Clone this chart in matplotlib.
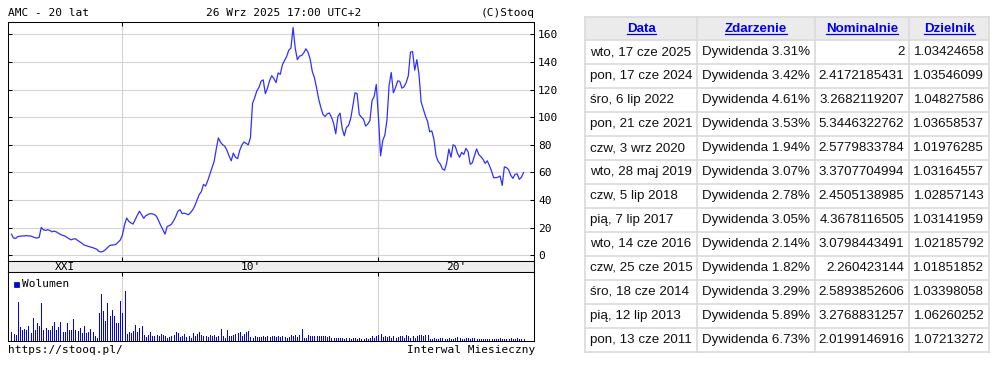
import matplotlib
matplotlib.use('Agg')
import matplotlib.pyplot as plt
import numpy as np
import pandas as pd
from matplotlib.patches import Rectangle

W, H = 1006, 375

# ---------------- data ----------------
start_month = '2005-09-01'
price = [15.3, 12.5, 12.2, 13.6, 13.8, 14.0, 14.0, 14.3, 14.0, 14.0,
         13.4, 12.8, 12.5, 13.0, 20.2, 18.5, 18.0, 18.5, 18.0, 17.0,
         17.5, 17.0, 16.0, 15.1, 14.5, 14.0, 13.0, 12.0, 11.2, 11.8,
         12.0, 10.8, 9.8, 8.8, 7.5, 7.0, 6.5, 6.0, 5.6, 5.0,
         4.4, 2.8, 2.4, 2.9, 4.0, 5.5, 7.0, 7.5, 7.5, 8.0,
         9.5, 11.0, 14.5, 22.0, 27.0, 24.6, 23.5, 22.6, 25.8, 29.0,
         31.9, 29.5, 26.8, 28.7, 29.5, 30.2, 30.0, 29.5, 28.2, 25.0,
         21.5, 18.5, 15.3, 20.9, 21.5, 22.5, 25.0, 28.0, 31.9, 33.0,
         30.2, 30.5, 30.0, 29.4, 31.0, 33.0, 36.0, 40.0, 44.0, 46.0,
         51.3, 50.1, 54.0, 58.6, 63.0, 68.0, 77.0, 85.0, 81.8, 80.0,
         79.0, 76.0, 72.0, 68.4, 74.0, 71.0, 70.0, 76.0, 79.8, 82.0,
         81.0, 80.0, 85.0, 110.0, 114.0, 119.0, 121.5, 126.0, 127.0, 117.0,
         121.0, 126.5, 130.0, 128.0, 125.0, 132.0, 131.0, 138.0, 141.0, 144.0,
         148.5, 150.0, 164.9, 150.0, 141.6, 144.2, 144.6, 146.5, 149.5, 147.0,
         142.0, 133.0, 128.6, 121.3, 113.0, 107.0, 102.0, 100.5, 102.4, 103.0,
         100.0, 95.5, 88.0, 100.4, 102.9, 91.9, 86.5, 92.5, 94.0, 99.0,
         108.0, 117.6, 117.0, 102.0, 100.0, 98.5, 93.6, 95.0, 97.5, 112.0,
         115.0, 123.7, 100.0, 72.0, 83.0, 87.0, 98.0, 123.0, 132.3, 117.6,
         121.3, 126.2, 126.0, 121.0, 122.0, 125.0, 130.0, 147.0, 147.5, 134.0,
         141.6, 131.0, 111.0, 106.0, 101.0, 97.0, 89.4, 90.1, 84.0, 72.0,
         68.0, 66.0, 62.5, 61.6, 67.0, 76.9, 71.0, 80.0, 79.0, 74.0,
         71.0, 74.5, 73.0, 77.4, 75.0, 65.9, 67.0, 72.0, 77.0, 73.0,
         71.5, 69.5, 66.5, 68.4, 65.0, 61.0, 56.2, 56.2, 56.5, 57.4,
         50.6, 64.0, 63.5, 62.0, 58.0, 55.7, 58.6, 59.0, 55.0, 56.5,
         59.9]
volume = [28, 20, 18, 118, 43, 33, 36, 33, 46, 25,
          70, 32, 53, 46, 115, 33, 40, 33, 33, 46,
          58, 33, 43, 58, 26, 26, 53, 33, 33, 66,
          33, 30, 40, 23, 46, 23, 26, 36, 28, 16,
          10, 83, 141, 90, 60, 113, 76, 93, 76, 53,
          53, 120, 83, 151, 22, 26, 23, 30, 48, 26,
          40, 45, 18, 13, 18, 28, 14, 16, 18, 14,
          20, 18, 16, 10, 12, 14, 18, 26, 24, 13,
          16, 20, 12, 14, 10, 24, 14, 22, 26, 18,
          16, 14, 12, 18, 14, 18, 12, 14, 36, 14,
          10, 32, 14, 16, 18, 20, 23, 26, 16, 22,
          26, 30, 13, 10, 15, 12, 13, 13, 14, 12,
          16, 12, 14, 16, 12, 14, 13, 16, 13, 8,
          12, 18, 15, 18, 12, 18, 36, 8, 10, 18,
          14, 16, 14, 16, 14, 16, 14, 14, 12, 14,
          10, 8, 9, 8, 8, 8, 7, 8, 8, 7,
          8, 8, 7, 8, 6, 7, 8, 6, 8, 14,
          10, 16, 18, 20, 12, 14, 12, 14, 8, 14,
          8, 12, 14, 14, 10, 18, 14, 10, 14, 8,
          16, 18, 18, 14, 18, 18, 7, 7, 8, 5,
          6, 8, 8, 6, 7, 8, 6, 7, 8, 12,
          8, 6, 7, 10, 8, 7, 8, 10, 6, 7,
          5, 6, 5, 6, 5, 5, 6, 7, 5, 8,
          6, 5, 7, 6, 8, 5, 6, 8, 6, 5,
          7]
decade_labels = ["XXI", "10'", "20'"]
title_left = "AMC - 20 lat"
title_mid = "26 Wrz 2025 17:00 UTC+2"
title_right = "(C)Stooq"
foot_left = "https://stooq.pl/"
foot_right = "Interwal Miesieczny"
vol_label = "Wolumen"
price_ticks = [0, 20, 40, 60, 80, 100, 120, 140, 160]

tbl_header = ["Data", "Zdarzenie", "Nominalnie", "Dzielnik"]
tbl_dates = ["wto, 17 cze 2025", "pon, 17 cze 2024", "śro, 6 lip 2022", "pon, 21 cze 2021",
             "czw, 3 wrz 2020", "wto, 28 maj 2019", "czw, 5 lip 2018", "pią, 7 lip 2017",
             "wto, 14 cze 2016", "czw, 25 cze 2015", "śro, 18 cze 2014", "pią, 12 lip 2013",
             "pon, 13 cze 2011"]
tbl_events = ["Dywidenda 3.31%", "Dywidenda 3.42%", "Dywidenda 4.61%", "Dywidenda 3.53%",
              "Dywidenda 1.94%", "Dywidenda 3.07%", "Dywidenda 2.78%", "Dywidenda 3.05%",
              "Dywidenda 2.14%", "Dywidenda 1.82%", "Dywidenda 3.29%", "Dywidenda 5.89%",
              "Dywidenda 6.73%"]
tbl_nominal = ["2", "2.4172185431", "3.2682119207", "5.3446322762", "2.5779833784",
               "3.3707704994", "2.4505138985", "4.3678116505", "3.0798443491",
               "2.260423144", "2.5893852606", "3.2768831257", "2.0199146916"]
tbl_divisor = ["1.03424658", "1.03546099", "1.04827586", "1.03658537", "1.01976285",
               "1.03164557", "1.02857143", "1.03141959", "1.02185792", "1.01851852",
               "1.03398058", "1.06260252", "1.07213272"]

# ---------------- figure ----------------
months = pd.date_range(start_month, periods=len(price), freq='MS')
idx = np.arange(len(price))
dec_idx = [i for i, d in enumerate(months) if d.month == 1 and d.year % 10 == 0]

fig = plt.figure(figsize=(W / 100, H / 100), dpi=100)
fig.patch.set_facecolor('white')


def fx(px):
    return px / W


def fy(py):
    return 1 - py / H


MONO = 'DejaVu Sans Mono'
L, R = 8, 534
P_TOP, P_BOT = 21.7, 260.7
B_BOT = 272.3
V_BOT = 341.0
XL = (-1.6, 244.9)
GRID = '#d4d4d4'
LW = 0.75

ax = fig.add_axes([fx(L), fy(P_BOT), fx(R - L), fy(P_TOP) - fy(P_BOT)])
band = fig.add_axes([fx(L), fy(B_BOT), fx(R - L), fy(P_BOT) - fy(B_BOT)])
axv = fig.add_axes([fx(L), fy(V_BOT), fx(R - L), fy(B_BOT) - fy(V_BOT)])

# price panel
ax.plot(idx, price, color='#3030ff', lw=0.9, zorder=3)
ax.set_xlim(*XL)
ax.set_ylim(-3.9, 169.1)
ax.set_yticks(price_ticks)
ax.set_yticklabels([str(t) for t in price_ticks], family=MONO, fontsize=8)
ax.yaxis.grid(True, color=GRID, lw=0.8)
for d in dec_idx:
    ax.axvline(d, color=GRID, lw=0.8, zorder=1)
ax.set_xticks(dec_idx)
ax.set_xticklabels([])
ax.tick_params(axis='y', direction='in', length=3, width=LW, left=True, right=True,
               labelleft=False, labelright=True, pad=3)
ax.tick_params(axis='x', direction='in', length=3, width=LW, top=True, bottom=True)
for s in ax.spines.values():
    s.set_linewidth(LW)

# band
band.set_facecolor('#eeeeee')
band.set_xlim(*XL)
band.set_ylim(0, 1)
band.set_xticks([])
band.set_yticks([])
for s in band.spines.values():
    s.set_linewidth(LW)
edges = [XL[0]] + dec_idx + [XL[1]]
for lab, a, b in zip(decade_labels, edges[:-1], edges[1:]):
    band.text((a + b) / 2, 0.45, lab, ha='center', va='center', family=MONO, fontsize=8)

# volume panel
axv.vlines(idx, 0, volume, colors='#0000ff', lw=0.5, antialiased=False, zorder=3)
axv.set_xlim(*XL)
axv.set_ylim(0, 206)
for d in dec_idx:
    axv.axvline(d, color=GRID, lw=0.8, zorder=1)
axv.set_yticks([])
axv.set_xticks(dec_idx)
axv.set_xticklabels([])
axv.tick_params(axis='x', direction='in', length=3, width=LW, top=True, bottom=False)
for s in axv.spines.values():
    s.set_linewidth(LW)

# overlay in pixel coordinates
ov = fig.add_axes([0, 0, 1, 1])
ov.set_xlim(0, W)
ov.set_ylim(H, 0)
ov.axis('off')
ov.patch.set_alpha(0)

ov.text(L, 13.5, title_left, ha='left', va='center', family=MONO, fontsize=8)
ov.text(206, 13.5, title_mid, ha='left', va='center', family=MONO, fontsize=8)
ov.text(R + 1, 13.5, title_right, ha='right', va='center', family=MONO, fontsize=8)
ov.text(L, 350, foot_left, ha='left', va='center', family=MONO, fontsize=8)
ov.text(R + 1, 350, foot_right, ha='right', va='center', family=MONO, fontsize=8)
ov.add_patch(Rectangle((14.3, 282), 5, 5, facecolor='#0000ff', edgecolor='#000080', lw=0.5))
ov.text(22.5, 284.3, vol_label, ha='left', va='center', family=MONO, fontsize=8)

# table
SANS = 'Liberation Sans'
cols = [585.3, 697.3, 814.7, 909.3, 989.3]
head_top, head_bot = 16.7, 40.3
row_h = (351.7 - head_bot) / len(tbl_dates)
rows = [head_top, head_bot] + [head_bot + row_h * (k + 1) for k in range(len(tbl_dates))]
ov.add_patch(Rectangle((cols[0], head_top), cols[-1] - cols[0], head_bot - head_top,
                       facecolor='#ebebeb', edgecolor='none'))
BORDER = '#dcdcdc'
for y in rows:
    ov.plot([cols[0], cols[-1]], [y, y], color=BORDER, lw=1.3, solid_capstyle='projecting')
for x in cols:
    ov.plot([x, x], [rows[0], rows[-1]], color=BORDER, lw=1.3, solid_capstyle='projecting')

head_texts = []
for k, h in enumerate(tbl_header):
    cx = (cols[k] + cols[k + 1]) / 2
    t = ov.text(cx, (head_top + head_bot) / 2, h, ha='center', va='center', family=SANS,
                fontsize=9.6, fontweight='bold', color='#0000ee')
    head_texts.append(t)

FS = 9.6
TC = '#111111'
for r in range(len(tbl_dates)):
    cy = (rows[r + 1] + rows[r + 2]) / 2
    ov.text(cols[0] + 5, cy, tbl_dates[r], ha='left', va='center', family=SANS, fontsize=FS, color=TC)
    ov.text(cols[1] + 5, cy, tbl_events[r], ha='left', va='center', family=SANS, fontsize=FS, color=TC)
    ov.text(cols[3] - 5, cy, tbl_nominal[r], ha='right', va='center', family=SANS, fontsize=FS, color=TC)
    ov.text(cols[4] - 5, cy, tbl_divisor[r], ha='right', va='center', family=SANS, fontsize=FS, color=TC)

# underline header links
fig.canvas.draw()
inv = ov.transData.inverted()
for t in head_texts:
    bb = t.get_window_extent()
    (x0, _), (x1, _) = inv.transform([(bb.x0, bb.y0), (bb.x1, bb.y1)])
    ov.plot([x0, x1], [33.8, 33.8], color='#0000ee', lw=0.9)

fig.savefig('out.png', dpi=100)
